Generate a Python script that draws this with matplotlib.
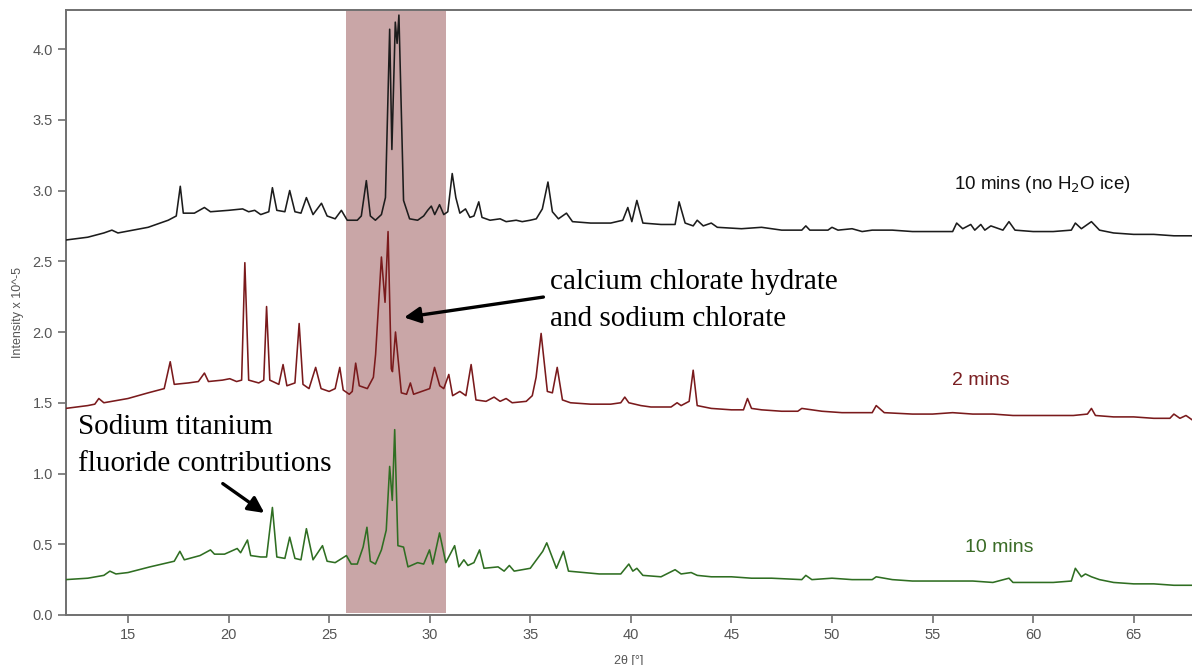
import matplotlib
matplotlib.use("Agg")
import matplotlib.pyplot as plt

# Diffraction patterns traced as (2theta [deg], intensity x 1e-5) vertices
pattern_10min_no_ice = [
    (11.9, 2.65), (13.0, 2.67), (13.8, 2.70), (14.2, 2.72), (14.5, 2.70), (16.0, 2.74),
    (17.0, 2.79), (17.4, 2.82), (17.6, 3.03), (17.75, 2.84), (18.3, 2.84), (18.8, 2.88),
    (19.1, 2.85), (20.0, 2.86), (20.7, 2.87), (21.0, 2.85), (21.3, 2.86), (21.6, 2.83),
    (22.0, 2.85), (22.18, 3.02), (22.4, 2.86), (22.8, 2.85), (23.04, 3.00), (23.3, 2.85),
    (23.6, 2.84), (23.87, 2.95), (24.2, 2.83), (24.62, 2.91), (24.9, 2.82), (25.3, 2.80),
    (25.61, 2.86), (25.9, 2.79), (26.4, 2.79), (26.6, 2.82), (26.85, 3.07), (27.05, 2.82),
    (27.3, 2.79), (27.6, 2.83), (27.8, 2.95), (28.01, 4.14), (28.12, 3.29), (28.29, 4.19),
    (28.38, 4.04), (28.47, 4.24), (28.7, 2.93), (29.0, 2.80), (29.4, 2.79), (29.7, 2.82),
    (29.9, 2.86), (30.08, 2.89), (30.25, 2.83), (30.49, 2.90), (30.7, 2.83), (30.9, 2.85),
    (31.12, 3.12), (31.3, 2.95), (31.5, 2.84), (31.78, 2.87), (32.0, 2.81), (32.2, 2.82),
    (32.44, 2.92), (32.6, 2.81), (33.0, 2.79), (33.5, 2.80), (33.8, 2.78), (34.3, 2.79),
    (34.6, 2.78), (35.0, 2.79), (35.3, 2.80), (35.6, 2.87), (35.88, 3.06), (36.1, 2.85),
    (36.4, 2.80), (36.8, 2.84), (37.1, 2.78), (38.0, 2.77), (39.0, 2.77), (39.6, 2.79),
    (39.85, 2.88), (40.05, 2.78), (40.3, 2.93), (40.6, 2.77), (41.5, 2.76), (42.2, 2.76),
    (42.4, 2.92), (42.7, 2.77), (43.1, 2.75), (43.3, 2.79), (43.6, 2.75), (44.0, 2.77),
    (44.3, 2.74), (45.5, 2.73), (46.5, 2.74), (47.5, 2.72), (48.5, 2.72), (48.7, 2.75),
    (48.9, 2.72), (49.8, 2.72), (50.0, 2.74), (50.3, 2.72), (51.0, 2.73), (51.5, 2.71),
    (52.0, 2.72), (53.0, 2.72), (54.0, 2.71), (55.0, 2.71), (56.0, 2.71), (56.2, 2.77),
    (56.5, 2.73), (56.9, 2.76), (57.1, 2.72), (57.4, 2.76), (57.6, 2.72), (57.9, 2.75),
    (58.5, 2.72), (58.8, 2.78), (59.1, 2.72), (60.0, 2.71), (61.0, 2.71), (61.9, 2.72),
    (62.1, 2.77), (62.4, 2.73), (62.7, 2.76), (62.9, 2.78), (63.3, 2.72), (64.0, 2.70),
    (65.0, 2.69), (66.0, 2.69), (67.0, 2.68), (67.9, 2.68),
]

pattern_2min = [
    (11.9, 1.46), (13.0, 1.48), (13.35, 1.49), (13.55, 1.53), (13.8, 1.50), (15.0, 1.53),
    (16.0, 1.57), (16.8, 1.60), (17.1, 1.79), (17.3, 1.63), (18.0, 1.64), (18.5, 1.65),
    (18.8, 1.71), (19.0, 1.65), (19.7, 1.66), (20.06, 1.67), (20.4, 1.65), (20.65, 1.66),
    (20.81, 2.49), (21.0, 1.66), (21.5, 1.64), (21.75, 1.66), (21.89, 2.18), (22.05, 1.66),
    (22.5, 1.63), (22.71, 1.77), (22.9, 1.62), (23.3, 1.64), (23.51, 2.06), (23.7, 1.63),
    (24.0, 1.60), (24.33, 1.75), (24.6, 1.60), (25.0, 1.58), (25.3, 1.60), (25.53, 1.75),
    (25.7, 1.59), (26.0, 1.56), (26.15, 1.58), (26.32, 1.78), (26.5, 1.62), (26.9, 1.60),
    (27.2, 1.68), (27.31, 1.84), (27.6, 2.53), (27.78, 2.21), (27.93, 2.71), (28.09, 1.74),
    (28.15, 1.72), (28.30, 2.00), (28.59, 1.57), (28.85, 1.56), (29.04, 1.64), (29.2, 1.56),
    (29.6, 1.58), (30.0, 1.60), (30.24, 1.75), (30.5, 1.62), (30.7, 1.60), (30.95, 1.70),
    (31.14, 1.55), (31.5, 1.58), (31.8, 1.55), (32.06, 1.77), (32.3, 1.52), (32.8, 1.51),
    (33.2, 1.54), (33.5, 1.51), (33.8, 1.53), (34.1, 1.50), (34.8, 1.51), (35.1, 1.55),
    (35.29, 1.68), (35.54, 1.99), (35.85, 1.58), (36.1, 1.57), (36.34, 1.75), (36.6, 1.52),
    (37.0, 1.50), (38.0, 1.49), (39.0, 1.49), (39.5, 1.50), (39.7, 1.54), (39.9, 1.50),
    (40.5, 1.48), (41.0, 1.47), (42.0, 1.47), (42.3, 1.50), (42.5, 1.48), (42.9, 1.51),
    (43.1, 1.73), (43.3, 1.48), (44.0, 1.46), (45.0, 1.45), (45.6, 1.45), (45.8, 1.53),
    (46.0, 1.46), (46.5, 1.45), (47.5, 1.44), (48.3, 1.44), (48.5, 1.46), (49.5, 1.44),
    (50.5, 1.43), (51.5, 1.43), (52.0, 1.43), (52.2, 1.48), (52.6, 1.43), (54.0, 1.42),
    (55.0, 1.42), (56.0, 1.43), (57.0, 1.42), (58.0, 1.42), (59.0, 1.41), (60.0, 1.41),
    (61.0, 1.41), (62.0, 1.41), (62.7, 1.42), (62.9, 1.46), (63.1, 1.41), (64.0, 1.40),
    (65.0, 1.40), (66.0, 1.39), (66.8, 1.39), (67.0, 1.42), (67.3, 1.39), (67.6, 1.41),
    (67.9, 1.38),
]

pattern_10min = [
    (11.9, 0.25), (13.0, 0.26), (13.8, 0.28), (14.1, 0.31), (14.4, 0.29), (15.0, 0.30),
    (16.09, 0.34), (17.3, 0.38), (17.58, 0.45), (17.8, 0.39), (18.58, 0.42), (19.1, 0.46),
    (19.3, 0.43), (19.8, 0.43), (20.43, 0.47), (20.6, 0.44), (20.94, 0.53), (21.1, 0.42),
    (21.6, 0.41), (21.89, 0.41), (22.18, 0.76), (22.4, 0.41), (22.8, 0.40), (23.04, 0.55),
    (23.3, 0.40), (23.6, 0.39), (23.87, 0.61), (24.2, 0.39), (24.67, 0.49), (24.9, 0.38),
    (25.3, 0.37), (25.86, 0.42), (26.1, 0.36), (26.4, 0.36), (26.69, 0.48), (26.88, 0.62),
    (27.05, 0.38), (27.3, 0.36), (27.6, 0.46), (27.84, 0.60), (28.01, 1.05), (28.14, 0.81),
    (28.26, 1.31), (28.42, 0.49), (28.7, 0.48), (28.92, 0.34), (29.4, 0.37), (29.7, 0.36),
    (29.99, 0.46), (30.15, 0.36), (30.49, 0.58), (30.8, 0.37), (31.24, 0.49), (31.45, 0.34),
    (31.7, 0.39), (31.9, 0.35), (32.2, 0.37), (32.48, 0.46), (32.7, 0.33), (33.4, 0.34),
    (33.7, 0.31), (33.96, 0.35), (34.2, 0.31), (35.0, 0.33), (35.62, 0.45), (35.82, 0.51),
    (36.3, 0.33), (36.65, 0.45), (36.9, 0.31), (38.43, 0.29), (39.5, 0.29), (39.9, 0.36),
    (40.1, 0.31), (40.3, 0.33), (40.6, 0.28), (41.5, 0.27), (42.2, 0.32), (42.5, 0.29),
    (43.0, 0.30), (43.3, 0.28), (44.0, 0.27), (45.0, 0.27), (46.0, 0.26), (47.0, 0.26),
    (48.5, 0.25), (48.7, 0.28), (49.0, 0.25), (50.0, 0.26), (51.0, 0.25), (52.0, 0.25),
    (52.2, 0.27), (53.0, 0.25), (54.0, 0.24), (55.0, 0.24), (56.0, 0.24), (57.0, 0.24),
    (58.0, 0.23), (58.8, 0.26), (59.0, 0.23), (60.0, 0.23), (61.0, 0.23), (61.9, 0.24),
    (62.1, 0.33), (62.4, 0.27), (62.6, 0.29), (62.9, 0.27), (63.3, 0.25), (64.0, 0.23),
    (65.0, 0.22), (66.0, 0.22), (67.0, 0.21), (67.9, 0.21),
]

x_ticks = [15, 20, 25, 30, 35, 40, 45, 50, 55, 60, 65]
y_ticks = [0.0, 0.5, 1.0, 1.5, 2.0, 2.5, 3.0, 3.5, 4.0]
highlight_range = (25.86, 30.82)

COL_BLACK = "#1c1c1c"
COL_RED = "#7a1a1c"
COL_GREEN = "#2f6e22"
AXIS_GREY = "#707070"
TICK_TEXT = "#555555"
SANS = ["Liberation Sans", "DejaVu Sans"]
SERIF = ["Liberation Serif", "DejaVu Serif"]

fig = plt.figure(figsize=(11.92, 6.65), dpi=100)
ax = fig.add_axes([0.0554, 0.0752, 0.9446, 0.9098])

ax.axvspan(*highlight_range, ymin=0.004, ymax=1.0, color="#c9a6a7", lw=0, zorder=0)

for pattern, colour in ((pattern_10min_no_ice, COL_BLACK),
                        (pattern_2min, COL_RED),
                        (pattern_10min, COL_GREEN)):
    tt, inten = zip(*pattern)
    ax.plot(tt, inten, color=colour, lw=1.15, zorder=3)

ax.set_xlim(11.92, 67.9)
ax.set_ylim(0, 4.276)
ax.set_xticks(x_ticks)
ax.set_yticks(y_ticks)
ax.set_yticklabels([f"{v:.1f}" for v in y_ticks])

for side in ("left", "bottom", "top"):
    ax.spines[side].set_color(AXIS_GREY)
    ax.spines[side].set_linewidth(1.4)
ax.spines["right"].set_visible(False)
ax.tick_params(axis="both", direction="out", length=6, width=1.2, color=AXIS_GREY,
               labelcolor=TICK_TEXT, labelsize=10.5)
for lbl in ax.get_xticklabels() + ax.get_yticklabels():
    lbl.set_family(SANS)

ax.set_xlabel("2θ [°]", color=TICK_TEXT, fontsize=9, family=SANS, labelpad=9)
ax.set_ylabel("Intensity x 10^-5", color=TICK_TEXT, fontsize=9, family=SANS, labelpad=6)

# Series labels
ax.text(56.06, 3.04, r"10 mins (no H$_2$O ice)", color="#111111", fontsize=13.5, family=SANS,
        va="center", ha="left")
ax.text(55.96, 1.66, "2 mins", color="#7a1f22", fontsize=14, family=SANS, va="center", ha="left")
ax.text(56.61, 0.48, "10 mins", color="#3a6b26", fontsize=14, family=SANS, va="center", ha="left")

# Phase annotations
ax.text(36.0, 2.35, "calcium chlorate hydrate", fontsize=21, family=SERIF, va="center", ha="left")
ax.text(36.0, 2.09, "and sodium chlorate", fontsize=21, family=SERIF, va="center", ha="left")
ax.annotate("", xy=(28.59, 2.10), xytext=(35.79, 2.25),
            arrowprops=dict(arrowstyle="-|>", color="black", lw=2.4, mutation_scale=24))

ax.text(12.52, 1.33, "Sodium titanium", fontsize=21, family=SERIF, va="center", ha="left")
ax.text(12.52, 1.07, "fluoride contributions", fontsize=21, family=SERIF, va="center", ha="left")
ax.annotate("", xy=(21.89, 0.71), xytext=(19.6, 0.94),
            arrowprops=dict(arrowstyle="-|>", color="black", lw=2.4, mutation_scale=24))

fig.savefig("out.png", dpi=100)
